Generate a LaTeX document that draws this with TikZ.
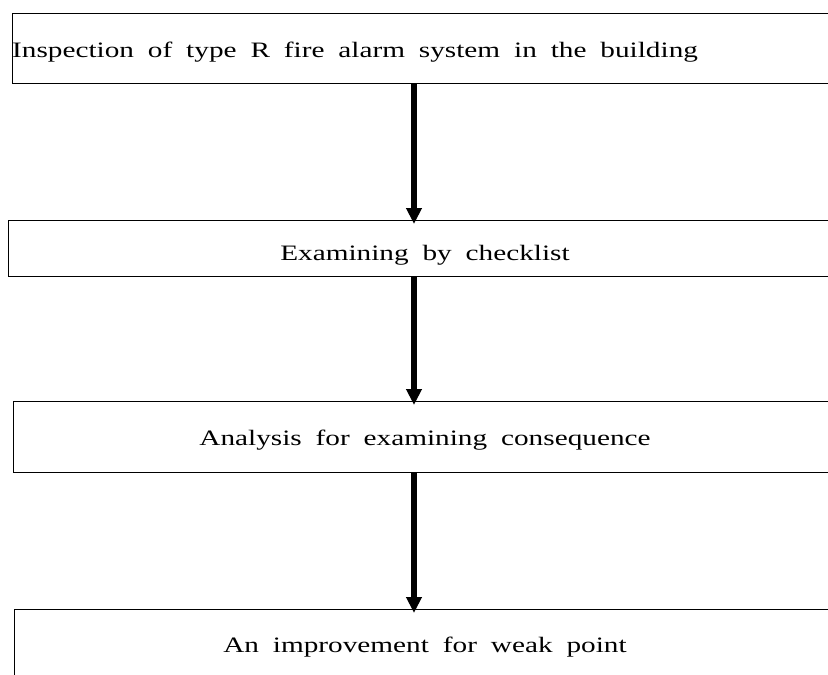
\documentclass[tikz,border=0pt]{standalone}
\usepackage{fontspec}
\setmainfont{Liberation Serif}[FakeStretch=1.33, WordSpace=1.9]
\usetikzlibrary{arrows.meta}
\begin{document}
\begin{tikzpicture}[x=1pt,y=-1pt,
  stepbox/.style={draw, line width=1.3pt, rectangle, anchor=north west, inner sep=0pt},
  boxtext/.style={anchor=base, inner sep=0pt, font=\fontsize{22}{26}\selectfont},
  flow/.style={line width=6.5pt, shorten >=-4pt, -{Triangle[length=16pt,width=15pt]}}]
\useasboundingbox (0,0) rectangle (828,675);
\clip (0,0) rectangle (828,675);

% boxes (open to the right, running past the page edge)
\node[stepbox, minimum width=828pt, minimum height=70pt] (b1) at (12,13) {};
\node[stepbox, minimum width=832pt, minimum height=56pt] (b2) at (8,220) {};
\node[stepbox, minimum width=827pt, minimum height=71pt] (b3) at (13,401) {};
\node[stepbox, minimum width=826pt, minimum height=100pt] (b4) at (14,609) {};

% texts
\node[boxtext, anchor=base west] (t1) at (12,57) {Inspection of type R fire alarm system in the building};
\node[boxtext] (t2) at (425,260) {Examining by checklist};
\node[boxtext] (t3) at (425,445) {Analysis for examining consequence};
\node[boxtext] (t4) at (425,652) {An improvement for weak point};

% connectors
\coordinate (ax) at (414,0);
\draw[flow] (b1.south -| ax) -- (b2.north -| ax);
\draw[flow] (b2.south -| ax) -- (b3.north -| ax);
\draw[flow] (b3.south -| ax) -- (b4.north -| ax);
\end{tikzpicture}
\end{document}
